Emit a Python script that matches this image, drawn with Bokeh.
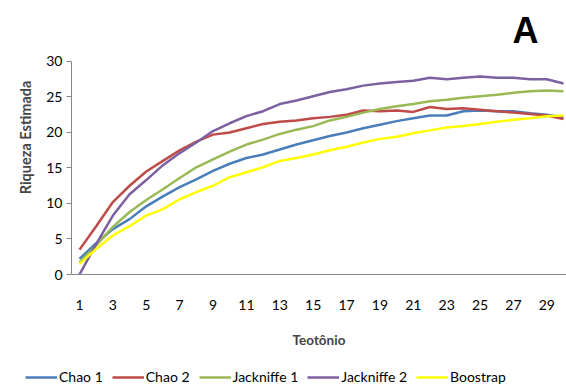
from bokeh.plotting import figure
from bokeh.layouts import column
from bokeh.models import Range1d, FixedTicker, Legend, LegendItem, Label
from bokeh.embed import file_html
from bokeh.resources import INLINE

samples = list(range(1, 31))
chao1 = [2.2, 4.4, 6.4, 7.8, 9.6, 11.0, 12.3, 13.4, 14.6, 15.6, 16.4, 16.9, 17.6, 18.3, 18.9,
         19.5, 20.0, 20.6, 21.1, 21.6, 22.0, 22.4, 22.4, 23.0, 23.1, 23.0, 23.0, 22.7, 22.5, 22.1]
chao2 = [3.5, 6.8, 10.2, 12.5, 14.5, 16.0, 17.5, 18.7, 19.7, 20.0, 20.6, 21.2, 21.5, 21.7, 22.0,
         22.2, 22.5, 23.1, 23.0, 23.1, 22.9, 23.6, 23.3, 23.4, 23.2, 23.0, 22.8, 22.6, 22.4, 21.9]
jack1 = [1.7, 4.1, 6.7, 8.8, 10.5, 12.0, 13.6, 15.1, 16.2, 17.3, 18.3, 19.0, 19.8, 20.4, 20.9,
         21.7, 22.2, 22.8, 23.3, 23.7, 24.0, 24.4, 24.6, 24.9, 25.1, 25.3, 25.6, 25.8, 25.9, 25.8]
jack2 = [0.0, 4.3, 8.3, 11.3, 13.3, 15.4, 17.1, 18.6, 20.2, 21.3, 22.3, 23.0, 24.0, 24.5, 25.1,
         25.7, 26.1, 26.6, 26.9, 27.1, 27.3, 27.7, 27.5, 27.7, 27.9, 27.7, 27.7, 27.5, 27.5, 26.9]
boot = [1.5, 3.6, 5.5, 6.8, 8.3, 9.2, 10.6, 11.6, 12.5, 13.7, 14.4, 15.1, 16.0, 16.4, 16.9,
        17.5, 18.0, 18.6, 19.1, 19.4, 19.9, 20.3, 20.7, 20.9, 21.2, 21.5, 21.8, 22.0, 22.3, 22.4]

series = [("Chao 1", chao1, "#4A7EBB"),
          ("Chao 2", chao2, "#BE4B48"),
          ("Jackniffe 1", jack1, "#98B954"),
          ("Jackniffe 2", jack2, "#7D60A0"),
          ("Boostrap", boot, "#FFFF00")]

x_ticks = list(range(1, 30, 2))
y_ticks = [0, 5, 10, 15, 20, 25, 30]
y_max = 30
panel_tag = "A"

FONT = "Lato"


def bare(fig):
    fig.outline_line_color = None
    fig.xgrid.grid_line_color = None
    fig.ygrid.grid_line_color = None


# main chart: frame reaches the top of the canvas so the panel letter fits in it;
# the y axis itself is bounded to 0..30
p = figure(width=566, height=352, output_backend="svg", toolbar_location=None,
           x_range=Range1d(0.52, 30.18), y_range=Range1d(0, 38.59),
           min_border_left=71, min_border_right=0, min_border_top=0, min_border_bottom=78)
bare(p)

for name, vals, col in series:
    p.line(samples, vals, line_color=col, line_width=2.5)

xa = p.xaxis[0]
xa.ticker = FixedTicker(ticks=x_ticks)
xa.axis_line_color = "#868686"
xa.major_tick_line_color = None
xa.minor_tick_line_color = None
xa.major_label_standoff = 19
xa.major_label_text_font = FONT
xa.major_label_text_font_size = "14px"
xa.major_label_text_color = "black"
xa.axis_label = "Teotônio"
xa.axis_label_text_font = FONT
xa.axis_label_text_font_style = "bold"
xa.axis_label_text_font_size = "13.5px"
xa.axis_label_standoff = 19

ya = p.yaxis[0]
ya.ticker = FixedTicker(ticks=y_ticks)
ya.bounds = (0, y_max)
ya.axis_line_color = "#868686"
ya.major_tick_line_color = "#868686"
ya.major_tick_out = 5
ya.major_tick_in = 0
ya.minor_tick_line_color = None
ya.major_label_standoff = 4
ya.major_label_text_font = FONT
ya.major_label_text_font_size = "14px"
ya.major_label_text_color = "black"
ya.axis_label = "Riqueza Estimada"
ya.axis_label_text_font = FONT
ya.axis_label_text_font_style = "bold"
ya.axis_label_text_font_size = "14.5px"
ya.axis_label_standoff = 9

p.add_layout(Label(x=441, y=244, x_units="screen", y_units="screen", text=panel_tag,
                   text_baseline="alphabetic", text_align="left",
                   text_font="Liberation Sans", text_font_style="bold",
                   text_font_size="36px", text_color="black"))

# legend strip below the chart (series drawn out of view, only the legend shows)
lg = figure(width=566, height=37, output_backend="svg", toolbar_location=None,
            x_range=Range1d(100, 101), y_range=Range1d(100, 101),
            x_axis_location=None, y_axis_location=None,
            min_border_left=0, min_border_right=0, min_border_top=0, min_border_bottom=0)
bare(lg)
items = []
for name, vals, col in series:
    r = lg.line(samples, vals, line_color=col, line_width=2.5)
    items.append(LegendItem(label=name, renderers=[r]))
legend = Legend(items=items, orientation="horizontal", location=(25, 4),
                glyph_width=32, glyph_height=14, label_standoff=2, spacing=9,
                padding=0, margin=0, border_line_color=None, background_fill_alpha=0,
                label_text_font=FONT, label_text_font_size="14px", label_text_color="black")
lg.add_layout(legend, "center")

layout = column(column(p), column(lg), spacing=0)
open("out.html", "w").write(file_html(layout, INLINE))
